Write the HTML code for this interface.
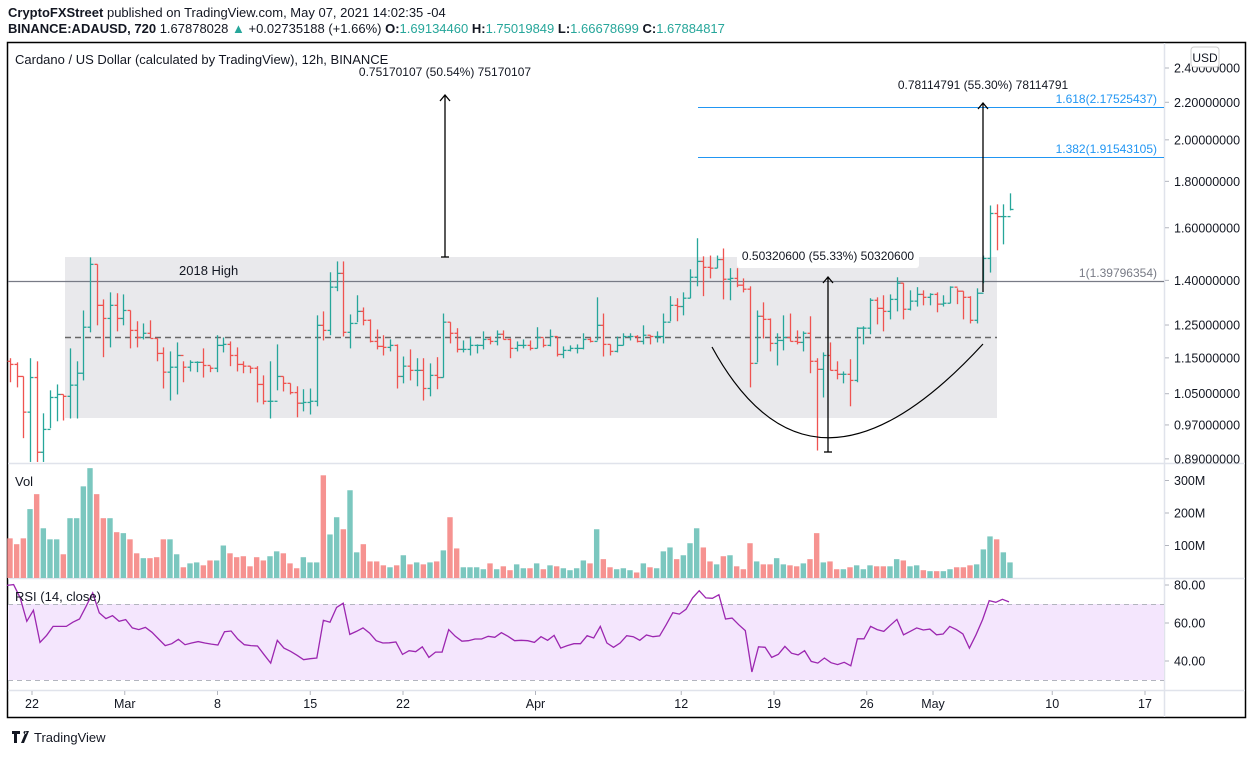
<!DOCTYPE html>
<html><head><meta charset="utf-8">
<style>
body{margin:0;background:#fff;width:1253px;height:755px;overflow:hidden;font-family:"Liberation Sans",sans-serif;}
svg text{font-family:"Liberation Sans",sans-serif;}
</style></head>
<body>
<svg id="chart" width="1253" height="755" xmlns="http://www.w3.org/2000/svg">
<text x="8" y="17" font-size="13" fill="#131722"><tspan font-weight="bold">CryptoFXStreet</tspan> published on TradingView.com, May 07, 2021 14:02:35 -04</text>
<text x="8" y="33" font-size="13" fill="#131722"><tspan font-weight="bold">BINANCE:ADAUSD, 720</tspan> 1.67878028 <tspan fill="#26a69a">▲</tspan> +0.02735188 (+1.66%) <tspan font-weight="bold">O:</tspan><tspan fill="#26a69a">1.69134460</tspan> <tspan font-weight="bold">H:</tspan><tspan fill="#26a69a">1.75019849</tspan> <tspan font-weight="bold">L:</tspan><tspan fill="#26a69a">1.66678699</tspan> <tspan font-weight="bold">C:</tspan><tspan fill="#26a69a">1.67884817</tspan></text>
<rect x="7.5" y="42.5" width="1238" height="675" fill="none" stroke="#000" stroke-width="1.5"/>
<g id="grid" stroke="#e0e3eb" stroke-width="1.5">
<line x1="8" y1="463.5" x2="1245" y2="463.5"/><line x1="8" y1="578.5" x2="1245" y2="578.5"/><line x1="8" y1="690.5" x2="1245" y2="690.5"/><line x1="1164.5" y1="43" x2="1164.5" y2="717"/>
</g>
<rect x="65" y="257" width="932" height="161" fill="#e9e9ec"/>
<line x1="65" y1="337.5" x2="997" y2="337.5" stroke="#666" stroke-width="1.5" stroke-dasharray="6,4"/>
<line x1="8" y1="281.5" x2="1164" y2="281.5" stroke="#787b86" stroke-width="1.2"/>
<text x="1157" y="277" font-size="12" fill="#787b86" text-anchor="end">1(1.39796354)</text>
<line x1="698" y1="107.5" x2="1164" y2="107.5" stroke="#2196f3" stroke-width="1"/>
<text x="1157" y="103" font-size="12" fill="#2196f3" text-anchor="end">1.618(2.17525437)</text>
<line x1="698" y1="157.5" x2="1164" y2="157.5" stroke="#2196f3" stroke-width="1"/>
<text x="1157" y="153" font-size="12" fill="#2196f3" text-anchor="end">1.382(1.91543105)</text>
<text x="15" y="64" font-size="13" fill="#131722">Cardano / US Dollar (calculated by TradingView), 12h, BINANCE</text>
<text x="179" y="275" font-size="13" fill="#131722">2018 High</text>
<g id="bars"></g>
<g id="vols"></g>
<rect x="8" y="604" width="1156" height="76" fill="#f4e6fd"/>
<line x1="8" y1="604.5" x2="1164" y2="604.5" stroke="#b2b5be" stroke-dasharray="5,4"/>
<line x1="8" y1="680.5" x2="1164" y2="680.5" stroke="#b2b5be" stroke-dasharray="5,4"/>
<path id="rsiline" fill="none" stroke="#9c27b0" stroke-width="1.3"/>
<text x="15" y="486" font-size="13" fill="#131722">Vol</text>
<text x="15" y="601" font-size="13" fill="#131722">RSI (14, close)</text>
<g stroke="#000" stroke-width="1.3" fill="none">
<line x1="445" y1="257" x2="445" y2="96"/><line x1="441" y1="257" x2="449" y2="257"/><path d="M440,101 L445,95 L450,101"/>
</g>
<text x="445" y="76" font-size="12" fill="#131722" text-anchor="middle">0.75170107 (50.54%) 75170107</text>
<g stroke="#000" stroke-width="1.3" fill="none">
<line x1="983" y1="292" x2="983" y2="103"/><path d="M978,109 L983,103 L988,109"/>
</g>
<text x="983" y="89" font-size="12" fill="#131722" text-anchor="middle">0.78114791 (55.30%) 78114791</text>
<rect x="737" y="243" width="182" height="25" rx="3" fill="#fff"/>
<text x="828" y="260" font-size="12" fill="#131722" text-anchor="middle">0.50320600 (55.33%) 50320600</text>
<g stroke="#000" stroke-width="1.3" fill="none">
<line x1="828" y1="452" x2="828" y2="278"/><line x1="824" y1="452" x2="832" y2="452"/><path d="M823,283 L828,277 L833,283"/>
</g>
<path d="M712,347 Q812,530 983,344" fill="none" stroke="#000" stroke-width="1.2"/>
<g id="axes"></g>
<rect x="1191" y="47" width="28" height="20" rx="3" fill="#fff" stroke="#ccc"/>
<text x="1205" y="62" font-size="12" fill="#131722" text-anchor="middle">USD</text>
<g>
<path d="M12,731 h8 v3 h-3 v9 h-3 v-9 h-2z M21,743 l5,-12 h3 l-5,12z M25,731 a1.5,1.5 0 1 0 0.01,0" fill="#131722"/>
<text x="34" y="742" font-size="13" fill="#131722">TradingView</text>
</g>
</svg>
<script>
const highs=[1.149,1.137,1.097,1.149,1.140,0.999,1.059,1.075,1.048,1.178,1.140,1.297,1.484,1.458,1.334,1.358,1.355,1.351,1.297,1.262,1.255,1.265,1.208,1.181,1.169,1.196,1.140,1.143,1.140,1.178,1.126,1.218,1.211,1.199,1.181,1.140,1.126,1.126,1.100,1.140,1.190,1.097,1.078,1.070,1.062,1.064,1.281,1.294,1.429,1.469,1.469,1.284,1.348,1.307,1.268,1.236,1.218,1.205,1.190,1.154,1.175,1.149,1.149,1.134,1.152,1.287,1.259,1.240,1.202,1.214,1.190,1.230,1.214,1.233,1.233,1.208,1.199,1.205,1.202,1.243,1.208,1.236,1.214,1.184,1.187,1.190,1.224,1.211,1.341,1.287,1.190,1.214,1.224,1.224,1.218,1.249,1.218,1.230,1.287,1.345,1.338,1.358,1.440,1.558,1.488,1.491,1.491,1.518,1.444,1.444,1.407,1.379,1.297,1.324,1.271,1.224,1.281,1.287,1.233,1.230,1.278,1.149,1.166,1.196,1.140,1.111,1.146,1.243,1.246,1.338,1.341,1.348,1.351,1.411,1.390,1.365,1.376,1.365,1.355,1.358,1.348,1.379,1.372,1.362,1.345,1.372,1.491,1.693,1.698,1.698,1.746];
const lows=[1.081,1.067,0.938,0.883,0.883,0.883,0.962,0.979,0.981,0.986,0.986,1.086,1.227,1.249,1.152,1.181,1.230,1.249,1.178,1.181,1.205,1.211,1.140,1.064,1.032,1.048,1.081,1.111,1.109,1.094,1.109,1.109,1.166,1.126,1.111,1.106,1.106,1.027,1.022,0.986,1.059,1.056,1.048,0.989,1.004,0.996,1.017,1.202,1.218,1.362,1.214,1.178,1.259,1.249,1.196,1.175,1.157,1.169,1.064,1.078,1.086,1.070,1.032,1.043,1.062,1.094,1.193,1.166,1.166,1.157,1.163,1.175,1.190,1.187,1.205,1.149,1.169,1.178,1.172,1.178,1.181,1.184,1.154,1.149,1.169,1.163,1.175,1.196,1.202,1.154,1.157,1.166,1.187,1.202,1.196,1.190,1.190,1.196,1.193,1.262,1.262,1.281,1.338,1.379,1.345,1.407,1.444,1.334,1.331,1.376,1.358,1.067,1.137,1.208,1.169,1.128,1.172,1.199,1.190,1.169,1.106,0.909,1.040,1.114,1.089,1.078,1.017,1.081,1.190,1.221,1.252,1.230,1.268,1.294,1.268,1.297,1.310,1.314,1.314,1.291,1.310,1.321,1.318,1.268,1.255,1.255,1.390,1.428,1.511,1.534,1.672];
const closes=[1.131,1.097,1.002,1.094,0.905,0.959,1.040,1.048,1.043,1.073,1.106,1.243,1.458,1.314,1.271,1.314,1.271,1.297,1.233,1.211,1.224,1.208,1.163,1.109,1.123,1.157,1.123,1.137,1.137,1.128,1.120,1.187,1.190,1.157,1.131,1.126,1.120,1.075,1.030,1.030,1.097,1.078,1.053,1.025,1.027,1.030,1.249,1.233,1.376,1.425,1.227,1.255,1.294,1.265,1.199,1.184,1.181,1.187,1.097,1.126,1.114,1.114,1.064,1.100,1.094,1.259,1.224,1.175,1.175,1.187,1.187,1.205,1.199,1.221,1.205,1.178,1.187,1.187,1.178,1.211,1.187,1.214,1.160,1.172,1.178,1.178,1.205,1.199,1.249,1.190,1.169,1.187,1.214,1.214,1.199,1.218,1.214,1.214,1.259,1.314,1.310,1.338,1.411,1.469,1.447,1.444,1.476,1.404,1.407,1.383,1.369,1.134,1.278,1.268,1.193,1.202,1.211,1.199,1.196,1.224,1.140,1.117,1.157,1.114,1.103,1.103,1.086,1.240,1.240,1.331,1.304,1.294,1.334,1.390,1.301,1.328,1.351,1.341,1.351,1.318,1.321,1.376,1.362,1.341,1.265,1.355,1.480,1.659,1.646,1.646,1.676];
const volumes=[122,104,122,212,258,153,119,119,73,184,184,282,338,258,184,184,141,138,119,76,61,61,64,119,119,73,33,45,48,39,54,54,100,76,64,67,36,64,54,67,82,76,45,30,64,48,48,316,134,187,150,270,79,104,51,51,39,33,39,70,42,48,42,48,51,85,187,91,33,33,33,27,45,27,36,24,42,30,30,45,27,39,36,30,24,30,54,45,150,58,33,27,30,24,17,45,33,30,82,94,58,70,107,153,94,51,42,67,70,36,27,107,51,42,42,61,42,39,36,45,58,138,48,51,27,27,33,39,27,39,36,36,36,58,54,36,39,24,21,21,21,27,33,33,39,42,88,128,119,79,48];
const rsi=[79.8,80.2,73.2,60.9,66.7,49.8,53.5,58.2,58.2,58.2,60.4,62.1,68.8,75.8,65.3,62.3,63.9,60.9,61.8,57.4,56.5,57.7,55.1,51.6,48.1,49.1,51.4,48.6,49.5,50.2,49.5,48.9,48.4,55.4,55.8,51.6,48.6,48.1,47.9,43.3,38.9,50.9,46.8,45.1,43.0,40.7,41.2,41.6,61.4,60.4,68.2,70.4,54.0,55.6,57.4,54.7,50.7,49.5,49.6,50.0,43.5,45.4,44.9,47.5,41.9,44.7,44.7,56.5,53.0,50.4,50.7,51.6,51.6,53.0,52.5,54.9,53.0,50.7,50.9,50.7,49.8,52.8,50.9,53.5,46.8,48.1,49.1,49.1,53.3,52.1,58.2,49.5,47.2,49.5,53.3,52.8,50.9,53.7,52.8,53.2,59.1,65.4,64.7,67.2,73.2,77.0,73.2,73.0,74.9,62.1,62.6,59.1,56.0,34.2,47.5,47.2,41.9,43.5,47.7,44.1,43.2,45.4,39.8,38.9,41.6,39.1,38.1,39.3,37.5,51.7,51.7,58.2,56.5,55.6,58.8,61.9,53.8,55.6,57.4,56.3,56.8,53.8,54.2,58.2,56.5,54.2,46.8,53.8,61.8,71.8,70.9,72.5,71.1];
const priceTicks=[2.4,2.2,2.0,1.8,1.6,1.4,1.25,1.15,1.05,0.97,0.89];
const volTicks=[300,200,100];
const rsiTicks=[80,60,40];
const dateLabels=["22","Mar","8","15","22","Apr","12","19","26","May","10","17"];
const dateOffsets=[2,9,16,23,30,40,51,58,65,70,79,86];

const NS="http://www.w3.org/2000/svg";
const step=1000/(closes.length-1);
function xOf(i){return 10+i*step;}
function yP(p){return 68+(Math.log(2.4)-Math.log(p))*394;}
function yV(v){return 578-v*0.325;}
function yR(r){return 585+(80-r)*1.9;}
function xDay(d){return 5.5+d*13.25;}
function mk(tag,attrs,parent){const e=document.createElementNS(NS,tag);for(const k in attrs)e.setAttribute(k,attrs[k]);parent.appendChild(e);return e;}

const bars=document.getElementById('bars');
for(let i=0;i<closes.length;i++){
  const o=i?closes[i-1]:1.14;const up=closes[i]>=o;const c=up?'#26a69a':'#ef5350';const x=Math.round(xOf(i))+0.5;
  const g=mk('g',{stroke:c,'stroke-width':1.3},bars);
  
  
  mk('line',{x1:x,x2:x,y1:yP(highs[i]),y2:yP(lows[i])},g);
  mk('line',{x1:x-3,x2:x,y1:yP(o),y2:yP(o)},g);
  mk('line',{x1:x,x2:x+3,y1:yP(closes[i]),y2:yP(closes[i])},g);
}
const vols=document.getElementById('vols');
for(let i=0;i<volumes.length;i++){
  const o=i?closes[i-1]:1.14;const up=closes[i]>=o;
  const r=mk('rect',{x:xOf(i)-2.7,y:yV(volumes[i]),width:5.4,height:578-yV(volumes[i]),fill:up?'#7bc7bf':'#f69391'},vols);
  
  
}
const rstep=1002/(rsi.length-1);
let d='';rsi.forEach((v,i)=>{d+=(i?'L':'M')+(7+i*rstep).toFixed(1)+','+yR(v).toFixed(1);});
document.getElementById('rsiline').setAttribute('d',d);

const axes=document.getElementById('axes');
priceTicks.forEach(p=>{
  const y=yP(p);
  mk('line',{x1:1165,x2:1169,y1:y,y2:y,stroke:'#b2b5be'},axes);
  const t=mk('text',{x:1174,y:y+4.5,'font-size':12.5,fill:'#131722'},axes);t.textContent=p.toFixed(8);
  
  
});
volTicks.forEach(v=>{
  const y=yV(v);
  mk('line',{x1:1165,x2:1169,y1:y,y2:y,stroke:'#b2b5be'},axes);
  const t=mk('text',{x:1174,y:y+4.5,'font-size':12.5,fill:'#131722'},axes);t.textContent=v+'M';
  
  
});
rsiTicks.forEach(v=>{
  const y=yR(v);
  mk('line',{x1:1165,x2:1169,y1:y,y2:y,stroke:'#b2b5be'},axes);
  const t=mk('text',{x:1174,y:y+4.5,'font-size':12.5,fill:'#131722'},axes);t.textContent=v.toFixed(2);
  
  
});
dateLabels.forEach((lab,i)=>{
  const x=xDay(dateOffsets[i]);
  mk('line',{x1:x,x2:x,y1:691,y2:695,stroke:'#b2b5be'},axes);
  const t=mk('text',{x:x,y:708,'font-size':12.5,fill:'#131722','text-anchor':'middle'},axes);t.textContent=lab;
  
  
});
</script>
</body></html>
